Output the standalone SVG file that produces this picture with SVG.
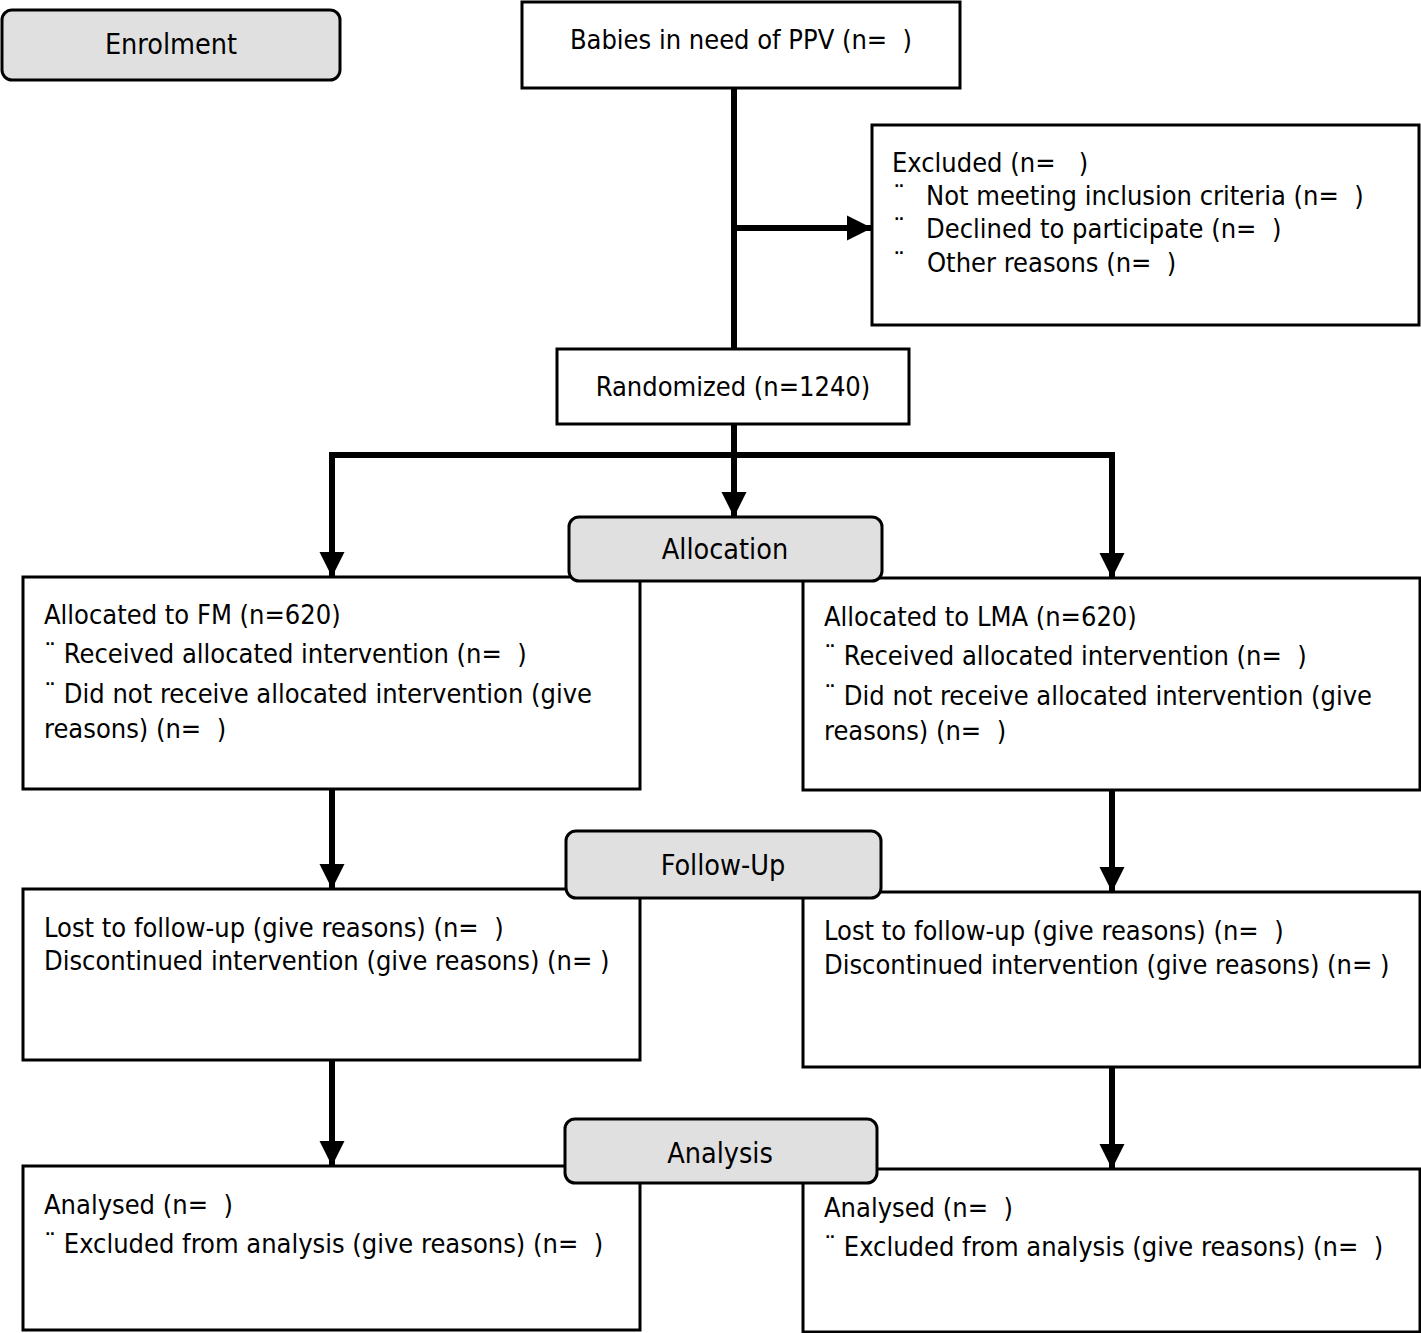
<svg xmlns="http://www.w3.org/2000/svg" width="1421" height="1333" viewBox="0 0 1421 1333">
<defs>
<style>
text{font-family:"DejaVu Sans Condensed","DejaVu Sans","Liberation Sans",sans-serif;font-size:27px;fill:#000;font-stretch:condensed;white-space:pre}
.box{fill:#fff;stroke:#000;stroke-width:3}
.stage{fill:#e0e0e0;stroke:#000;stroke-width:3}
.c{text-anchor:middle}
.s{font-size:28.5px}
.conn{fill:none;stroke:#000;stroke-width:6}
</style>
<marker id="ah" viewBox="0 0 10 10" refX="10" refY="5" markerWidth="4.2" markerHeight="4.2" markerUnits="strokeWidth" orient="auto">
<path d="M0,0 L10,5 L0,10 Z" fill="#000"/>
</marker>
</defs>
<rect width="1421" height="1333" fill="#fff"/>
<g id="connectors">
<line class="conn" x1="734" y1="88" x2="734" y2="349"/>
<line class="conn" x1="731" y1="228" x2="872" y2="228" marker-end="url(#ah)"/>
<line class="conn" x1="734" y1="424" x2="734" y2="517" marker-end="url(#ah)"/>
<polyline class="conn" points="332,500 332,455 1112,455 1112,500"/>
<line class="conn" x1="332" y1="490" x2="332" y2="577" marker-end="url(#ah)"/>
<line class="conn" x1="1112" y1="490" x2="1112" y2="578" marker-end="url(#ah)"/>
<line class="conn" x1="332" y1="789" x2="332" y2="889" marker-end="url(#ah)"/>
<line class="conn" x1="1112" y1="790" x2="1112" y2="892" marker-end="url(#ah)"/>
<line class="conn" x1="332" y1="1060" x2="332" y2="1166" marker-end="url(#ah)"/>
<line class="conn" x1="1112" y1="1067" x2="1112" y2="1169" marker-end="url(#ah)"/>
</g>
<g id="enrolment">
<rect class="stage" x="2" y="10" width="338" height="70" rx="10"/>
<text class="c s" x="171" y="54">Enrolment</text>
</g>
<g id="babies">
<rect class="box" x="522" y="2" width="438" height="86"/>
<text class="c" x="741" y="49">Babies in need of PPV (n=  )</text>
</g>
<g id="excluded">
<rect class="box" x="872" y="125" width="547" height="200"/>
<text x="892" y="172">Excluded (n=   )</text>
<text x="893" y="205">¨</text><text x="926" y="205">Not meeting inclusion criteria (n=  )</text>
<text x="893" y="238">¨</text><text x="926" y="238">Declined to participate (n=  )</text>
<text x="893" y="272">¨</text><text x="927" y="272">Other reasons (n=  )</text>
</g>
<g id="randomized">
<rect class="box" x="557" y="349" width="352" height="75"/>
<text class="c" x="733" y="396">Randomized (n=1240)</text>
</g>
<g id="alloc-fm">
<rect class="box" x="23" y="577" width="617" height="212"/>
<text x="44" y="624">Allocated to FM (n=620)</text>
<text x="44" y="663">¨ Received allocated intervention (n=  )</text>
<text x="44" y="703">¨ Did not receive allocated intervention (give</text>
<text x="44" y="738">reasons) (n=  )</text>
</g>
<g id="alloc-lma">
<rect class="box" x="803" y="578" width="617" height="212"/>
<text x="824" y="626">Allocated to LMA (n=620)</text>
<text x="824" y="665">¨ Received allocated intervention (n=  )</text>
<text x="824" y="705">¨ Did not receive allocated intervention (give</text>
<text x="824" y="740">reasons) (n=  )</text>
</g>
<g id="allocation">
<rect class="stage" x="569" y="517" width="313" height="64" rx="10"/>
<text class="c s" x="725" y="559">Allocation</text>
</g>
<g id="follow-fm">
<rect class="box" x="23" y="889" width="617" height="171"/>
<text x="44" y="937">Lost to follow-up (give reasons) (n=  )</text>
<text x="44" y="970">Discontinued intervention (give reasons) (n= )</text>
</g>
<g id="follow-lma">
<rect class="box" x="803" y="892" width="617" height="175"/>
<text x="824" y="940">Lost to follow-up (give reasons) (n=  )</text>
<text x="824" y="974">Discontinued intervention (give reasons) (n= )</text>
</g>
<g id="followup">
<rect class="stage" x="566" y="831" width="315" height="67" rx="10"/>
<text class="c s" x="723" y="875">Follow-Up</text>
</g>
<g id="analysed-fm">
<rect class="box" x="23" y="1166" width="617" height="164"/>
<text x="44" y="1214">Analysed (n=  )</text>
<text x="44" y="1253">¨ Excluded from analysis (give reasons) (n=  )</text>
</g>
<g id="analysed-lma">
<rect class="box" x="803" y="1169" width="617" height="163"/>
<text x="824" y="1217">Analysed (n=  )</text>
<text x="824" y="1256">¨ Excluded from analysis (give reasons) (n=  )</text>
</g>
<g id="analysis">
<rect class="stage" x="565" y="1119" width="312" height="64" rx="10"/>
<text class="c s" x="720" y="1163">Analysis</text>
</g>
</svg>
